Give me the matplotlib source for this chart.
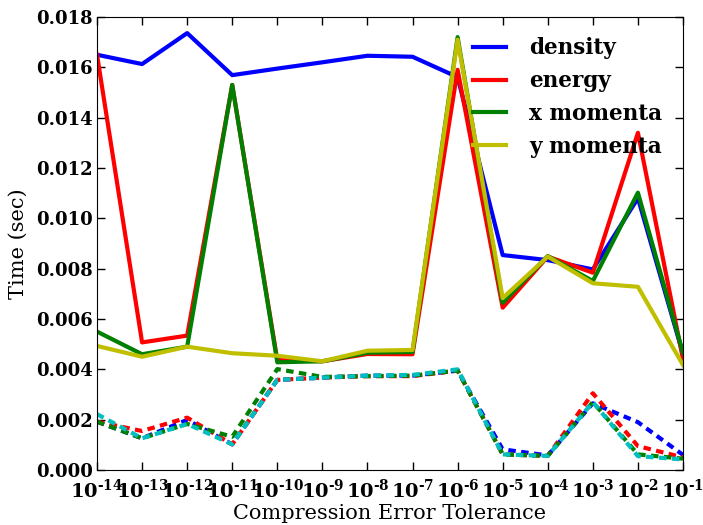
import numpy as np
import matplotlib
matplotlib.use("Agg")
import matplotlib.pyplot as plt

plt.rcParams["mathtext.fontset"] = "dejavuserif"

tolerance = [1e-14, 1e-13, 1e-12, 1e-11, 1e-10, 1e-9, 1e-8, 1e-7, 1e-6, 1e-5, 1e-4, 1e-3, 1e-2, 1e-1]

# solid lines (legend)
density   = [0.01650, 0.01613, 0.01736, 0.01569, 0.01595, 0.01620, 0.01646, 0.01642, 0.01561, 0.00854, 0.00834, 0.00797, 0.01080, 0.00460]
energy    = [0.01650, 0.00507, 0.00534, 0.01530, 0.00437, 0.00432, 0.00461, 0.00460, 0.01590, 0.00645, 0.00848, 0.00784, 0.01340, 0.00440]
x_momenta = [0.00550, 0.00460, 0.00490, 0.01530, 0.00428, 0.00432, 0.00466, 0.00469, 0.01720, 0.00665, 0.00850, 0.00751, 0.01102, 0.00465]
y_momenta = [0.00493, 0.00450, 0.00490, 0.00464, 0.00454, 0.00432, 0.00474, 0.00477, 0.01710, 0.00683, 0.00848, 0.00742, 0.00728, 0.00417]

# dashed lines
dash_blue  = [0.00192, 0.00126, 0.00199, 0.00102, 0.00358, 0.00367, 0.00375, 0.00375, 0.00395, 0.00082, 0.00058, 0.00265, 0.00190, 0.00060]
dash_red   = [0.00192, 0.00155, 0.00208, 0.00102, 0.00358, 0.00367, 0.00373, 0.00373, 0.00395, 0.00062, 0.00056, 0.00305, 0.00095, 0.00050]
dash_green = [0.00192, 0.00126, 0.00183, 0.00132, 0.00401, 0.00370, 0.00373, 0.00375, 0.00395, 0.00062, 0.00056, 0.00270, 0.00062, 0.00045]
dash_cyan  = [0.00222, 0.00126, 0.00183, 0.00102, 0.00358, 0.00367, 0.00375, 0.00378, 0.00400, 0.00062, 0.00056, 0.00270, 0.00055, 0.00042]

labels = ["density", "energy", "x momenta", "y momenta"]
yticks = [0.000, 0.002, 0.004, 0.006, 0.008, 0.010, 0.012, 0.014, 0.016, 0.018]

fig = plt.figure(figsize=(7.03, 5.25), dpi=100)
ax = fig.add_axes([97/703, 55/525, 586/703, 453/525])

lw = 3
ax.plot(tolerance, density, color="#0000ff", lw=lw, label=labels[0])
ax.plot(tolerance, energy, color="#ff0000", lw=lw, label=labels[1])
ax.plot(tolerance, x_momenta, color="#008000", lw=lw, label=labels[2])
ax.plot(tolerance, y_momenta, color="#bfbf00", lw=lw, label=labels[3])

dash = (0, (1.8, 1.3))
ax.plot(tolerance, dash_blue, color="#0000ff", lw=lw, ls=dash)
ax.plot(tolerance, dash_red, color="#ff0000", lw=lw, ls=dash)
ax.plot(tolerance, dash_green, color="#008000", lw=lw, ls=dash)
ax.plot(tolerance, dash_cyan, color="#00bfbf", lw=lw, ls=dash)

ax.set_xscale("log")
ax.set_xlim(1e-14, 1e-1)
ax.set_ylim(0, 0.018)
ax.set_xticks(tolerance)
ax.xaxis.set_minor_locator(matplotlib.ticker.NullLocator())
ax.set_xticklabels(["$\\mathbf{10^{\u2010%d}}$" % abs(int(round(np.log10(t)))) for t in tolerance])
ax.set_yticks(yticks)
ax.set_yticklabels(["%.3f" % v for v in yticks])

ax.tick_params(direction="in", top=True, right=True, length=6, width=1)
ax.tick_params(axis="y", pad=3)
ax.tick_params(axis="x", pad=6)
for lab in ax.get_yticklabels():
    lab.set_fontfamily("DejaVu Serif")
    lab.set_fontweight("bold")
    lab.set_fontsize(13)
for lab in ax.get_xticklabels():
    lab.set_fontsize(14)

ax.set_xlabel("Compression Error Tolerance", family="DejaVu Serif", fontsize=15, labelpad=2)
ax.set_ylabel("Time (sec)", family="DejaVu Serif", fontsize=15, labelpad=6)

leg = ax.legend(loc="upper right", frameon=False,
                prop={"family": "DejaVu Serif", "weight": "bold", "size": 15.5},
                handlelength=1.5, handletextpad=1.1, labelspacing=0.5,
                borderaxespad=0.55)

fig.savefig("out.png", dpi=100, facecolor="white")
